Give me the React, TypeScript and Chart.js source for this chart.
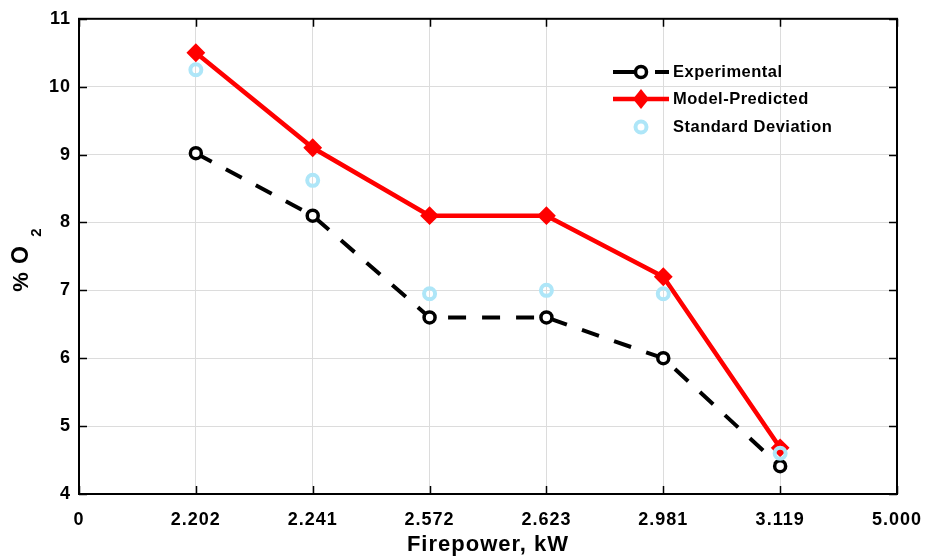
import React, { useEffect, useRef } from "react";
import { Chart, registerables } from "chart.js";

Chart.register(...registerables);

const xTickLabels = ["0", "2.202", "2.241", "2.572", "2.623", "2.981", "3.119", "5.000"];
const experimental = [null, 9.02, 8.1, 6.6, 6.6, 6.0, 4.41];
const modelPredicted = [null, 10.5, 9.1, 8.1, 8.1, 7.2, 4.68];
const standardDeviation = [null, 10.25, 8.62, 6.95, 7.0, 6.95, 4.6];
const yMin = 4;
const yMax = 11;

const FONT = "'Liberation Sans', Arial, Helvetica, sans-serif";
const RED = "#ff0000";
const BLUE = "#aee6f8";

const framePlugin = {
  id: "frame",
  beforeDraw(chart: any) {
    chart.ctx.letterSpacing = "1px";
  },
  afterDatasetsDraw(chart: any) {
    const { ctx, chartArea } = chart;
    const { left, right, top, bottom } = chartArea;
    const xs = chart.scales.x;
    const ys = chart.scales.y;
    ctx.save();
    ctx.strokeStyle = "#000";
    ctx.lineWidth = 2;
    ctx.strokeRect(left, top, right - left, bottom - top);
    ctx.lineWidth = 1.5;
    const tl = 8;
    xs.ticks.forEach((_: any, i: number) => {
      const px = Math.round(xs.getPixelForTick(i)) + 0.5;
      ctx.beginPath();
      ctx.moveTo(px, bottom);
      ctx.lineTo(px, bottom - tl);
      ctx.moveTo(px, top);
      ctx.lineTo(px, top + tl);
      ctx.stroke();
    });
    ys.ticks.forEach((t: any) => {
      const py = Math.round(ys.getPixelForValue(t.value)) + 0.5;
      ctx.beginPath();
      ctx.moveTo(left, py);
      ctx.lineTo(left + tl, py);
      ctx.moveTo(right, py);
      ctx.lineTo(right - tl, py);
      ctx.stroke();
    });
    ctx.restore();
  },
  afterDraw(chart: any) {
    const { ctx } = chart;
    ctx.save();
    const x0 = 613;
    const x1 = 669;
    const xm = 641;
    const tx = 673;
    const rows = [72, 99, 127];
    // Experimental
    ctx.strokeStyle = "#000";
    ctx.lineWidth = 4;
    ctx.beginPath();
    ctx.moveTo(x0, rows[0]);
    ctx.lineTo(xm, rows[0]);
    ctx.moveTo(xm + 14, rows[0]);
    ctx.lineTo(x1, rows[0]);
    ctx.stroke();
    ctx.lineWidth = 3.5;
    ctx.fillStyle = "#fff";
    ctx.beginPath();
    ctx.arc(xm, rows[0], 5.5, 0, Math.PI * 2);
    ctx.fill();
    ctx.stroke();
    // Model
    ctx.strokeStyle = RED;
    ctx.fillStyle = RED;
    ctx.lineWidth = 4.5;
    ctx.beginPath();
    ctx.moveTo(x0, rows[1]);
    ctx.lineTo(x1, rows[1]);
    ctx.stroke();
    ctx.beginPath();
    ctx.moveTo(xm, rows[1] - 10);
    ctx.lineTo(xm + 8, rows[1]);
    ctx.lineTo(xm, rows[1] + 10);
    ctx.lineTo(xm - 8, rows[1]);
    ctx.closePath();
    ctx.fill();
    // Std
    ctx.strokeStyle = BLUE;
    ctx.lineWidth = 4;
    ctx.beginPath();
    ctx.arc(xm, rows[2], 5.5, 0, Math.PI * 2);
    ctx.stroke();
    ctx.fillStyle = "#000";
    ctx.letterSpacing = "0.5px";
    ctx.font = `bold 16.5px ${FONT}`;
    ctx.textBaseline = "middle";
    ctx.textAlign = "left";
    ctx.fillText("Experimental", tx, rows[0]);
    ctx.fillText("Model-Predicted", tx, rows[1]);
    ctx.fillText("Standard Deviation", tx, rows[2]);

    // Y axis title "% O2" with subscript
    ctx.letterSpacing = "0px";
    const glyph = (txt: string, sx: number, sy: number, size: number) => {
      ctx.save();
      ctx.translate(sx, sy);
      ctx.rotate(-Math.PI / 2);
      ctx.font = `bold ${size}px ${FONT}`;
      ctx.textAlign = "center";
      ctx.textBaseline = "alphabetic";
      ctx.fillText(txt, 0, 0);
      ctx.restore();
    };
    glyph("%", 28, 282, 22);
    glyph("O", 28, 255, 23);
    glyph("2", 41, 232.5, 15);
    ctx.restore();
  },
};

export default function App() {
  const ref = useRef<HTMLCanvasElement | null>(null);
  useEffect(() => {
    if (!ref.current) return;
    const chart = new Chart(ref.current, {
      type: "line",
      data: {
        labels: xTickLabels,
        datasets: [
          {
            label: "Standard Deviation",
            data: standardDeviation,
            showLine: false,
            borderColor: BLUE,
            backgroundColor: "transparent",
            pointBorderColor: BLUE,
            pointBackgroundColor: "transparent",
            pointRadius: 5.5,
            pointBorderWidth: 4,
            order: 0,
          },
          {
            label: "Model-Predicted",
            data: modelPredicted,
            borderColor: RED,
            backgroundColor: RED,
            borderWidth: 4.5,
            pointStyle: "rectRot",
            pointRadius: 8,
            pointBorderWidth: 2,
            pointBorderColor: RED,
            pointBackgroundColor: ["#fff", RED, RED, RED, RED, RED, RED, RED],
            tension: 0,
            order: 1,
          },
          {
            label: "Experimental",
            data: experimental,
            borderColor: "#000",
            backgroundColor: "#fff",
            borderWidth: 4,
            borderDash: [18, 16],
            pointRadius: 5.5,
            pointBorderWidth: 3.5,
            pointBorderColor: "#000",
            pointBackgroundColor: "#fff",
            tension: 0,
            order: 2,
          },
        ],
      },
      options: {
        animation: false,
        responsive: false,
        maintainAspectRatio: false,
        layout: { padding: { top: 16, right: 38, left: 0, bottom: 0 } },
        plugins: {
          legend: { display: false },
          tooltip: { enabled: false },
        },
        scales: {
          x: {
            type: "category",
            offset: false,
            grid: { color: "#dcdcdc", lineWidth: 1, drawTicks: false },
            border: { display: false },
            ticks: {
              padding: 15,
              color: "#000",
              font: { family: FONT, size: 18, weight: "bold" },
              autoSkip: false,
              maxRotation: 0,
            },
            title: {
              display: true,
              text: "Firepower, kW",
              color: "#000",
              font: { family: FONT, size: 22, weight: "bold" },
              padding: { top: 0, bottom: 0 },
            },
            afterFit(scale: any) {
              scale.height = 64;
            },
          },
          y: {
            min: yMin,
            max: yMax,
            grid: { color: "#dcdcdc", lineWidth: 1, drawTicks: false },
            border: { display: false },
            ticks: {
              stepSize: 1,
              padding: 8,
              color: "#000",
              font: { family: FONT, size: 18, weight: "bold" },
            },
            title: { display: false },
            afterFit(scale: any) {
              scale.width = 79;
            },
          },
        },
      },
      plugins: [framePlugin],
    } as any);
    return () => chart.destroy();
  }, []);
  return (
    <div style={{ position: "fixed", left: 0, top: 0, width: 935, height: 558, background: "#fff" }}>
      <canvas ref={ref} width={935} height={558} style={{ display: "block" }} />
    </div>
  );
}
